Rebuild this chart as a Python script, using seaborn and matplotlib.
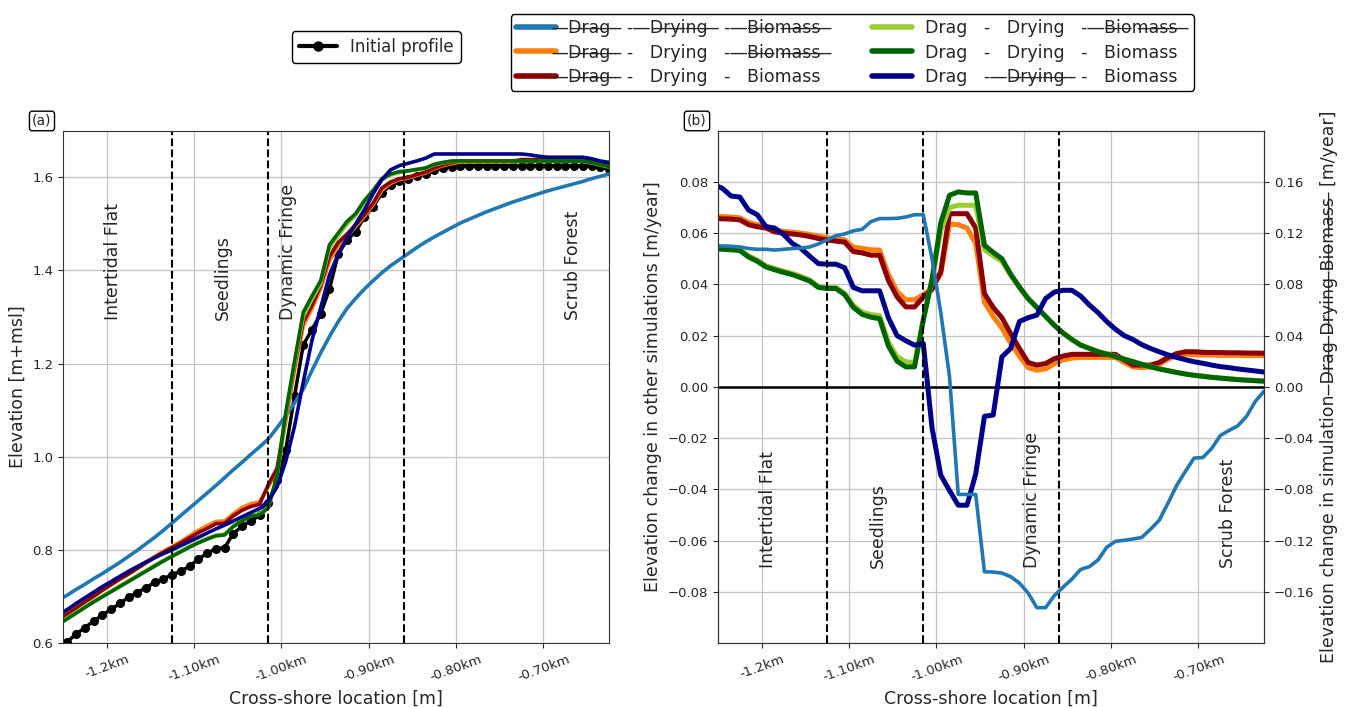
import numpy as np
import matplotlib
matplotlib.use("Agg")
import matplotlib.pyplot as plt
import seaborn as sns
from matplotlib.lines import Line2D

# ---------------- data ----------------
x_m = np.arange(-1255, -624, 10)  # cross-shore sample locations [m]

# Panel (a): elevation [m+msl]
elev_initial = [0.585, 0.603, 0.619, 0.633, 0.647, 0.660, 0.672, 0.685, 0.698, 0.708,
                0.719, 0.730, 0.738, 0.747, 0.754, 0.765, 0.780, 0.793, 0.802, 0.805,
                0.835, 0.851, 0.862, 0.874, 0.901, 0.950, 1.015, 1.130, 1.240, 1.273,
                1.307, 1.360, 1.435, 1.465, 1.483, 1.515, 1.537, 1.566, 1.584, 1.591,
                1.597, 1.603, 1.607, 1.615, 1.620, 1.623, 1.625, 1.625, 1.625, 1.625,
                1.625, 1.625, 1.625, 1.625, 1.625, 1.625, 1.625, 1.625, 1.625, 1.625,
                1.625, 1.625, 1.622, 1.617]
elev_none = [0.692, 0.703, 0.715, 0.726, 0.738, 0.749, 0.761, 0.773, 0.786, 0.799,
             0.813, 0.827, 0.842, 0.858, 0.874, 0.890, 0.906, 0.922, 0.938, 0.955,
             0.972, 0.988, 1.005, 1.021, 1.038, 1.062, 1.088, 1.115, 1.145, 1.185,
             1.223, 1.258, 1.290, 1.318, 1.340, 1.360, 1.378, 1.395, 1.410, 1.423,
             1.436, 1.449, 1.461, 1.472, 1.482, 1.492, 1.502, 1.510, 1.518, 1.526,
             1.533, 1.540, 1.547, 1.553, 1.559, 1.565, 1.571, 1.576, 1.581, 1.586,
             1.591, 1.597, 1.602, 1.607]
elev_dry = [0.652, 0.664, 0.677, 0.690, 0.702, 0.715, 0.727, 0.739, 0.750, 0.762,
            0.774, 0.786, 0.797, 0.807, 0.818, 0.830, 0.842, 0.852, 0.861, 0.862,
            0.878, 0.891, 0.899, 0.903, 0.935, 0.970, 1.075, 1.185, 1.280, 1.318,
            1.360, 1.420, 1.452, 1.472, 1.494, 1.516, 1.541, 1.572, 1.587, 1.595,
            1.598, 1.604, 1.609, 1.618, 1.625, 1.629, 1.633, 1.633, 1.633, 1.633,
            1.633, 1.633, 1.633, 1.636, 1.636, 1.636, 1.636, 1.636, 1.636, 1.636,
            1.635, 1.633, 1.628, 1.628]
elev_dry_bio = [0.650, 0.662, 0.675, 0.688, 0.700, 0.713, 0.725, 0.737, 0.748, 0.760,
                0.772, 0.784, 0.795, 0.805, 0.815, 0.826, 0.837, 0.846, 0.856, 0.857,
                0.873, 0.885, 0.893, 0.898, 0.940, 0.975, 1.085, 1.195, 1.290, 1.325,
                1.368, 1.430, 1.460, 1.478, 1.498, 1.520, 1.545, 1.577, 1.590, 1.597,
                1.600, 1.606, 1.611, 1.620, 1.627, 1.631, 1.635, 1.635, 1.635, 1.635,
                1.635, 1.635, 1.635, 1.638, 1.638, 1.638, 1.638, 1.638, 1.638, 1.638,
                1.637, 1.635, 1.630, 1.630]
elev_drag_dry = [0.642, 0.654, 0.666, 0.678, 0.690, 0.701, 0.712, 0.723, 0.734, 0.745,
                 0.756, 0.767, 0.778, 0.788, 0.798, 0.808, 0.817, 0.825, 0.832, 0.834,
                 0.852, 0.864, 0.874, 0.877, 0.892, 0.955, 1.088, 1.198, 1.300, 1.338,
                 1.372, 1.447, 1.474, 1.499, 1.517, 1.545, 1.568, 1.594, 1.605, 1.610,
                 1.613, 1.616, 1.619, 1.627, 1.631, 1.634, 1.634, 1.634, 1.634, 1.634,
                 1.634, 1.634, 1.634, 1.634, 1.634, 1.634, 1.634, 1.634, 1.634, 1.634,
                 1.634, 1.631, 1.626, 1.622]
elev_all = [0.640, 0.652, 0.664, 0.676, 0.688, 0.699, 0.710, 0.721, 0.732, 0.743,
            0.754, 0.765, 0.776, 0.786, 0.796, 0.806, 0.815, 0.823, 0.830, 0.832,
            0.850, 0.862, 0.872, 0.875, 0.890, 0.960, 1.095, 1.205, 1.310, 1.345,
            1.378, 1.455, 1.480, 1.505, 1.522, 1.550, 1.572, 1.597, 1.607, 1.612,
            1.614, 1.617, 1.620, 1.628, 1.632, 1.635, 1.635, 1.635, 1.635, 1.635,
            1.635, 1.635, 1.635, 1.635, 1.635, 1.635, 1.635, 1.635, 1.635, 1.635,
            1.635, 1.632, 1.627, 1.623]
elev_drag_bio = [0.660, 0.672, 0.685, 0.697, 0.709, 0.721, 0.732, 0.743, 0.754, 0.764,
                 0.774, 0.783, 0.792, 0.800, 0.809, 0.818, 0.827, 0.836, 0.845, 0.853,
                 0.862, 0.871, 0.880, 0.889, 0.905, 0.935, 0.990, 1.065, 1.160, 1.250,
                 1.320, 1.390, 1.435, 1.470, 1.500, 1.530, 1.565, 1.595, 1.616, 1.625,
                 1.630, 1.635, 1.641, 1.650, 1.650, 1.650, 1.650, 1.650, 1.650, 1.650,
                 1.650, 1.650, 1.650, 1.650, 1.648, 1.645, 1.643, 1.643, 1.643, 1.643,
                 1.643, 1.640, 1.635, 1.632]

# Panel (b): elevation change [m/year]
dz_none = [0.110, 0.110, 0.1098, 0.1092, 0.108, 0.1074, 0.1074, 0.1068, 0.1074, 0.108,
           0.1084, 0.1092, 0.1116, 0.1148, 0.118, 0.1194, 0.1218, 0.123, 0.129, 0.1314,
           0.1314, 0.1316, 0.1326, 0.1344, 0.1344, 0.100, 0.058, 0.008, -0.084, -0.084,
           -0.084, -0.1444, -0.1446, -0.1454, -0.1482, -0.1532, -0.161, -0.1724, -0.1724, -0.163,
           -0.1564, -0.1502, -0.1426, -0.1404, -0.1352, -0.1252, -0.1206, -0.1198, -0.1188, -0.1176,
           -0.1112, -0.1042, -0.091, -0.077, -0.066, -0.0556, -0.0552, -0.0482, -0.038, -0.034,
           -0.0304, -0.023, -0.0114, -0.0034]
dz_dry = [0.0666, 0.0665, 0.0663, 0.0660, 0.0642, 0.0633, 0.0628, 0.0613, 0.0607, 0.0604,
          0.0600, 0.0595, 0.0588, 0.0582, 0.0578, 0.0574, 0.0545, 0.0541, 0.0535, 0.0534,
          0.0440, 0.0372, 0.0340, 0.0340, 0.0360, 0.0385, 0.0440, 0.0636, 0.0633, 0.0620,
          0.0560, 0.0330, 0.0275, 0.0230, 0.0170, 0.0120, 0.0075, 0.0065, 0.0070, 0.0090,
          0.0105, 0.0112, 0.0115, 0.0115, 0.0115, 0.0115, 0.0115, 0.0095, 0.0078, 0.0075,
          0.0078, 0.0088, 0.0108, 0.0122, 0.0127, 0.0125, 0.0124, 0.0124, 0.0123, 0.0123,
          0.0123, 0.0122, 0.0122, 0.0122]
dz_dry_bio = [0.0657, 0.0656, 0.0655, 0.0652, 0.0633, 0.0625, 0.0620, 0.0605, 0.0600, 0.0597,
              0.0593, 0.0587, 0.0579, 0.0573, 0.0569, 0.0565, 0.0528, 0.0523, 0.0514, 0.0514,
              0.0416, 0.0351, 0.0312, 0.0312, 0.0351, 0.0380, 0.0450, 0.0676, 0.0676, 0.0676,
              0.0620, 0.0364, 0.0310, 0.0270, 0.0208, 0.0150, 0.0095, 0.0085, 0.0091, 0.0110,
              0.0120, 0.0127, 0.0127, 0.0127, 0.0127, 0.0127, 0.0127, 0.0105, 0.0085, 0.0085,
              0.0085, 0.0095, 0.0115, 0.0130, 0.0137, 0.0137, 0.0135, 0.0134, 0.0134, 0.0133,
              0.0133, 0.0132, 0.0132, 0.0131]
dz_drag_dry = [0.0545, 0.0542, 0.0540, 0.0537, 0.0512, 0.0495, 0.0473, 0.0462, 0.0452, 0.0443,
               0.0431, 0.0418, 0.0392, 0.0388, 0.0388, 0.0365, 0.0318, 0.0292, 0.0282, 0.0278,
               0.0175, 0.0118, 0.0098, 0.0095, 0.0265, 0.0415, 0.0610, 0.0700, 0.0709, 0.0709,
               0.0709, 0.0535, 0.0512, 0.0490, 0.0435, 0.0387, 0.0343, 0.0309, 0.0275, 0.0241,
               0.0211, 0.0186, 0.0164, 0.0151, 0.0138, 0.0129, 0.0119, 0.0109, 0.0099, 0.0089,
               0.0079, 0.0071, 0.0064, 0.0057, 0.0051, 0.0046, 0.0042, 0.0038, 0.0035, 0.0032,
               0.0029, 0.0027, 0.0025, 0.0023]
dz_all = [0.0540, 0.0537, 0.0535, 0.0532, 0.0507, 0.0490, 0.0468, 0.0457, 0.0447, 0.0438,
          0.0426, 0.0413, 0.0388, 0.0384, 0.0384, 0.0360, 0.0310, 0.0283, 0.0272, 0.0266,
          0.0160, 0.0100, 0.0078, 0.0078, 0.0260, 0.0420, 0.0640, 0.0748, 0.0761, 0.0757,
          0.0757, 0.0553, 0.0525, 0.0500, 0.0440, 0.0390, 0.0345, 0.0310, 0.0275, 0.0240,
          0.0210, 0.0185, 0.0163, 0.0150, 0.0137, 0.0128, 0.0118, 0.0108, 0.0098, 0.0088,
          0.0078, 0.0070, 0.0063, 0.0056, 0.0050, 0.0045, 0.0041, 0.0037, 0.0034, 0.0031,
          0.0028, 0.0026, 0.0024, 0.0022]
dz_drag_bio = [0.0790, 0.0775, 0.0745, 0.0741, 0.0690, 0.0672, 0.0625, 0.0620, 0.0595, 0.0560,
               0.0540, 0.0510, 0.0481, 0.0479, 0.0479, 0.0465, 0.0388, 0.0375, 0.0375, 0.0375,
               0.0270, 0.0200, 0.0180, 0.0163, 0.0169, -0.0160, -0.0345, -0.0405, -0.0462, -0.0462,
               -0.0340, -0.0115, -0.0110, 0.0117, 0.0150, 0.0255, 0.0270, 0.0280, 0.0345, 0.0370,
               0.0377, 0.0377, 0.0355, 0.0320, 0.0290, 0.0255, 0.0225, 0.0200, 0.0185, 0.0165,
               0.0150, 0.0137, 0.0125, 0.0115, 0.0106, 0.0098, 0.0092, 0.0085, 0.0079, 0.0075,
               0.0070, 0.0066, 0.0062, 0.0058]

series_colors = ["tab:blue", "tab:orange", "darkred", "yellowgreen", "darkgreen", "darkblue"]
# which processes are active (Drag, Drying, Biomass)
series_flags = [(0, 0, 0), (0, 1, 0), (0, 1, 1), (1, 1, 0), (1, 1, 1), (1, 0, 1)]
process_names = ["Drag", "Drying", "Biomass"]

zone_names = ["Intertidal Flat", "Seedlings", "Dynamic Fringe", "Scrub Forest"]
zone_x_a = [-1193, -1067, -992, -666]
zone_x_b = [-1193, -1067, -890, -666]
boundaries = [-1125, -1015, -860]
xtick_pos = [-1200, -1100, -1000, -900, -800, -700]
xtick_lab = ["-1.2km", "-1.10km", "-1.00km", "-0.90km", "-0.80km", "-0.70km"]

# ---------------- style ----------------
sns.set_style("ticks")
plt.rcParams["font.family"] = ["DejaVu Sans"]
plt.rcParams["axes.edgecolor"] = "#333333"


def strike(t):
    return "".join(ch + "\u0336" for ch in t)


def seg(word, on):
    s = "  " + word + "  "
    return s if on else strike(s)


def run_label(flags):
    return " - ".join(seg(w, on) for w, on in zip(process_names, flags))


fig = plt.figure(figsize=(13.45, 7.07), dpi=100)
axa = fig.add_axes([0.04684, 0.09052, 0.40595, 0.72461])
axb = fig.add_axes([0.53383, 0.09052, 0.40595, 0.72461])

# ---- panel (a)
sns.lineplot(x=x_m, y=elev_initial, ax=axa, color="black", linewidth=2.5,
             marker="o", markersize=6.5, markeredgewidth=0, legend=False)
elev_series = [elev_none, elev_dry, elev_dry_bio, elev_drag_dry, elev_all, elev_drag_bio]
for vals, c in zip(elev_series, series_colors):
    sns.lineplot(x=x_m, y=vals, ax=axa, color=c, linewidth=2.6, legend=False)

axa.set_xlim(-1250, -625)
axa.set_ylim(0.6, 1.7)
axa.set_yticks([0.6, 0.8, 1.0, 1.2, 1.4, 1.6])
axa.grid(True, color="#c4c4c4", linewidth=0.9)
axa.set_ylabel("Elevation [m+msl]", fontsize=12.5)
for xz, nm in zip(zone_x_a, zone_names):
    axa.text(xz, 1.294, nm, rotation=90, ha="center", va="bottom", fontsize=12.5)
axa.text(-0.0385, 1.019, "(a)", transform=axa.transAxes, ha="center", va="center",
         fontsize=10, bbox=dict(boxstyle="round,pad=0.2", fc="white", ec="black", lw=1))

# ---- panel (b)
dz_series = [dz_dry, dz_dry_bio, dz_drag_dry, dz_all, dz_drag_bio]
for vals, c in zip(dz_series, series_colors[1:]):
    sns.lineplot(x=x_m, y=vals, ax=axb, color=c, linewidth=3.6, legend=False)
axb.axhline(0, color="black", linewidth=1.8, zorder=1.5)
axb.set_xlim(-1250, -625)
axb.set_ylim(-0.1, 0.1)
axb.set_yticks([-0.08, -0.06, -0.04, -0.02, 0.0, 0.02, 0.04, 0.06, 0.08])
axb.grid(True, color="#c4c4c4", linewidth=0.9)
axb.set_ylabel("Elevation change in other simulations [m/year]", fontsize=12.5)
for xz, nm in zip(zone_x_b, zone_names):
    axb.text(xz, -0.0707, nm, rotation=90, ha="center", va="bottom", fontsize=12.5)
axb.text(-0.0385, 1.019, "(b)", transform=axb.transAxes, ha="center", va="center",
         fontsize=10, bbox=dict(boxstyle="round,pad=0.2", fc="white", ec="black", lw=1))

ax2 = axb.twinx()
sns.lineplot(x=x_m, y=dz_none, ax=ax2, color=series_colors[0], linewidth=2.6, legend=False)
ax2.set_ylim(-0.2, 0.2)
ax2.set_yticks([-0.16, -0.12, -0.08, -0.04, 0.0, 0.04, 0.08, 0.12, 0.16])
ax2.set_ylabel("Elevation change in simulation " + strike(" Drag-Drying-Biomass ") + " [m/year]",
               fontsize=12.5)
ax2.tick_params(labelsize=9.5)

for ax in (axa, axb):
    for b in boundaries:
        ax.axvline(b, color="black", linestyle="--", linewidth=1.5)
    ax.set_xticks(xtick_pos)
    ax.set_xticklabels(xtick_lab, rotation=20)
    ax.set_xlabel("Cross-shore location [m]", fontsize=12.5)
    ax.tick_params(labelsize=9.5)

# ---- legends
init_handle = Line2D([], [], color="black", marker="o", linewidth=3, markersize=6.5)
fig.legend([init_handle], ["Initial profile"], loc="center", bbox_to_anchor=(0.2799, 0.9335),
           fontsize=12, edgecolor="black", framealpha=1, handlelength=2.3)

run_handles = [Line2D([], [], color=c, linewidth=4) for c in series_colors]
run_labels = [run_label(f) for f in series_flags]
fig.legend(run_handles, run_labels, ncol=2, loc="center", bbox_to_anchor=(0.6336, 0.9257),
           fontsize=12.5, edgecolor="black", framealpha=1, handlelength=2.3,
           handletextpad=0.1, labelspacing=0.35, borderpad=0.3, columnspacing=2.3)

fig.savefig("out.png", dpi=100)
